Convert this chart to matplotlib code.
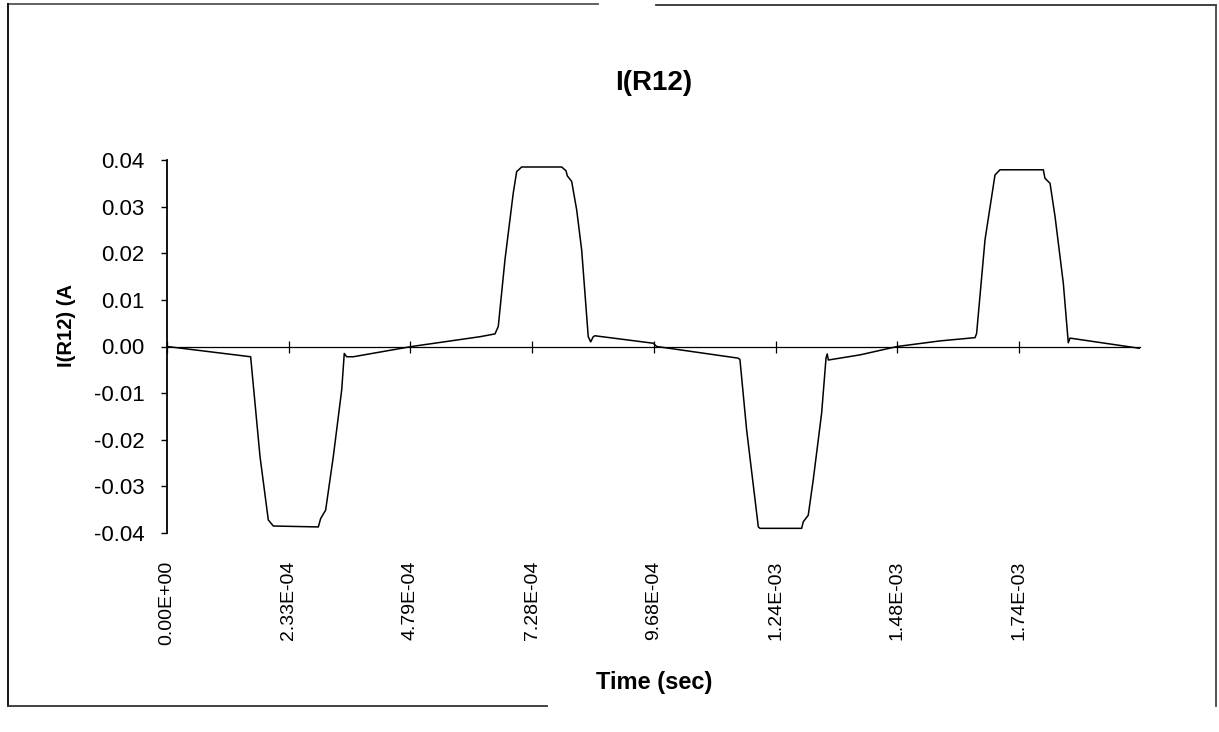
import matplotlib
matplotlib.use("Agg")
import matplotlib.pyplot as plt
from matplotlib.lines import Line2D

# Category positions (tick index units) (A)
pos = [0.000, 0.687, 0.764, 0.832, 0.873, 1.243, 1.262, 1.303, 1.366, 1.435,
       1.456, 1.476, 1.530, 2.010, 2.571, 2.694, 2.721, 2.776, 2.844, 2.872,
       2.913, 3.242, 3.277, 3.288, 3.324, 3.365, 3.406, 3.460, 3.480, 3.501,
       3.515, 3.994, 4.022, 4.692, 4.706, 4.761, 4.857, 4.871, 5.213, 5.226,
       5.267, 5.308, 5.377, 5.413, 5.423, 5.432, 5.692, 5.998, 6.349, 6.637,
       6.650, 6.719, 6.801, 6.842, 7.198, 7.211, 7.253, 7.294, 7.362, 7.403,
       7.417, 7.992]
current = [0.0, -0.0022, -0.0236, -0.0372, -0.0385, -0.0387, -0.0369, -0.0351, -0.0236, -0.0093,
           -0.0015, -0.0022, -0.0022, 0.0, 0.0021, 0.0027, 0.0043, 0.0186, 0.0329, 0.0375,
           0.0385, 0.0385, 0.0377, 0.0366, 0.0354, 0.0293, 0.0207, 0.0021, 0.0010, 0.0021,
           0.0023, 0.0007, 0.0, -0.0025, -0.0028, -0.0179, -0.0387, -0.0390, -0.0390, -0.0376,
           -0.0362, -0.0286, -0.0143, -0.0025, -0.0016, -0.0029, -0.0018, 0.0, 0.0012, 0.0019,
           0.0028, 0.0229, 0.0368, 0.0379, 0.0379, 0.0361, 0.0350, 0.0279, 0.0136, 0.0008,
           0.0018, -0.0004]

tick_pos = [0, 1, 2, 3, 4, 5, 6, 7]
tick_labels = ["0.00E+00", "2.33E-04", "4.79E-04", "7.28E-04",
               "9.68E-04", "1.24E-03", "1.48E-03", "1.74E-03"]
y_ticks = [0.04, 0.03, 0.02, 0.01, 0.0, -0.01, -0.02, -0.03, -0.04]

plt.rcParams['font.family'] = ['Liberation Sans', 'DejaVu Sans']

W, H = 1219, 732
fig = plt.figure(figsize=(W / 100, H / 100), dpi=100)
ax = fig.add_axes([167 / W, 1 - 533 / H, (1140 - 167) / W, (533 - 160) / H])

ax.plot(pos, current, color='black', lw=1.1, solid_joinstyle='round')

ax.set_xlim(0, 7.992)
ax.set_ylim(-0.04, 0.04)

# y axis
ax.set_yticks(y_ticks)
ax.set_yticklabels([f"{v:.2f}" for v in y_ticks], fontsize=16)
ax.tick_params(axis='y', direction='out', length=4, width=1, pad=12)
ax.spines['left'].set_linewidth(1.3)
ax.spines['right'].set_visible(False)
ax.spines['top'].set_visible(False)

# x axis line at zero with crossing ticks
ax.spines['bottom'].set_position(('data', 0))
ax.spines['bottom'].set_linewidth(0.9)
ax.set_xticks(tick_pos)
ax.tick_params(axis='x', direction='inout', length=8, width=0.9, labelbottom=False)

# tick labels at the bottom of the plot area
sec = ax.secondary_xaxis(0)
sec.set_xticks(tick_pos)
sec.set_xticklabels(tick_labels, rotation=90, fontsize=14, va='top')
sec.tick_params(length=0, pad=20)
sec.spines['bottom'].set_visible(False)

fig.text(654 / W, 1 - 83 / H, "I(R12)", ha='center', va='center',
         fontsize=20, fontweight='bold')
fig.text(654 / W, 1 - 682 / H, "Time (sec)", ha='center', va='center',
         fontsize=17, fontweight='bold')
fig.text(66 / W, 1 - 326 / H, "I(R12) (A", ha='center', va='center',
         rotation=90, fontsize=14.5, fontweight='bold')

# outer frame
def fline(x0, y0, x1, y1, color='black', lw=1.3):
    fig.add_artist(Line2D([x0 / W, x1 / W], [1 - y0 / H, 1 - y1 / H],
                          transform=fig.transFigure, color=color, lw=lw))

fline(8, 4, 598, 4, color='#555555')
fline(656, 5, 1216, 5, color='#333333')
fline(8, 4, 8, 706)
fline(1216, 5, 1216, 706, color='#444444')
fline(8, 706, 547, 706, color='#333333')

fig.savefig("out.png", dpi=100)
